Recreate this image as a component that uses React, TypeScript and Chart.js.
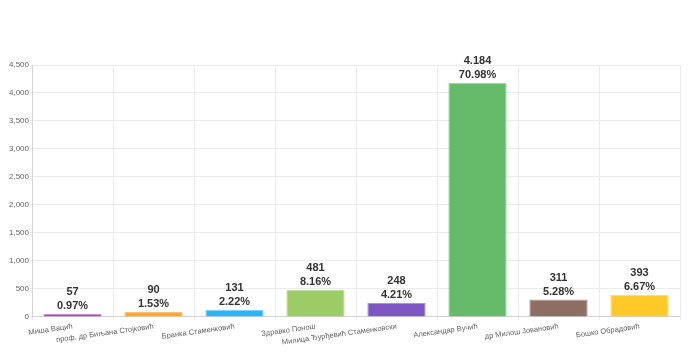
import React, { useEffect, useRef } from "react";
import { Chart, registerables } from "chart.js";

Chart.register(...registerables);

const categories = [
  "Миша Вацић",
  "проф. др Биљана Стојковић",
  "Бранка Стаменковић",
  "Здравко Понош",
  "Милица Ђурђевић Стаменковски",
  "Александар Вучић",
  "др Милош Јовановић",
  "Бошко Обрадовић",
];
const votes = [57, 90, 131, 481, 248, 4184, 311, 393];
const percents = ["0.97%", "1.53%", "2.22%", "8.16%", "4.21%", "70.98%", "5.28%", "6.67%"];
const barColors = ["#ab47bc", "#ffa726", "#29b6f6", "#9ccc65", "#7e57c2", "#66bb6a", "#8d6e63", "#ffca28"];
const borderColors = ["#c68fd0", "#ffc275", "#7fd2f8", "#bfdd9c", "#a893d7", "#9ed5a0", "#b09b93", "#ffdb7a"];

const fmtVotes = (v: number) => v.toString().replace(/\B(?=(\d{3})+(?!\d))/g, ".");

const labelPlugin = {
  id: "barLabels",
  afterDatasetsDraw(chart: any) {
    const ctx = chart.ctx;
    const meta = chart.getDatasetMeta(0);
    ctx.save();
    ctx.fillStyle = "#333";
    ctx.font = "bold 11px 'Liberation Sans', Arial, sans-serif";
    ctx.textAlign = "center";
    ctx.textBaseline = "alphabetic";
    meta.data.forEach((bar: any, i: number) => {
      ctx.fillText(fmtVotes(votes[i]), bar.x, bar.y - 19);
      ctx.fillText(percents[i], bar.x, bar.y - 5);
    });
    ctx.restore();
  },
};

export default function App() {
  const ref = useRef<HTMLCanvasElement>(null);
  useEffect(() => {
    const chart = new Chart(ref.current!, {
      type: "bar",
      data: {
        labels: categories,
        datasets: [
          {
            data: votes,
            backgroundColor: barColors,
            borderColor: borderColors,
            borderWidth: 1,
          },
        ],
      },
      options: {
        animation: false,
        responsive: true,
        maintainAspectRatio: false,
        layout: { padding: { top: 57, right: 8, left: 0, bottom: 0 } },
        plugins: { legend: { display: false }, tooltip: { enabled: false } },
        scales: {
          x: {
            grid: { color: "#ebebeb", tickLength: 3 },
            ticks: {
              color: "#666",
              font: { size: 7.5, family: "'Liberation Sans', Arial, sans-serif" },
              minRotation: 8,
              maxRotation: 8,
              autoSkip: false,
              padding: 2,
            },
          },
          y: {
            min: 0,
            max: 4500,
            grid: { color: "#ebebeb", tickLength: 2 },
            ticks: {
              stepSize: 500,
              color: "#666",
              padding: 1,
              font: { size: 8, family: "'Liberation Sans', Arial, sans-serif" },
              callback: (v: any) => Number(v).toLocaleString("en-US"),
            },
          },
        },
      },
      plugins: [labelPlugin],
    });
    return () => chart.destroy();
  }, []);
  return (
    <div style={{ width: 680, height: 341, position: "relative" }}>
      <canvas ref={ref} />
    </div>
  );
}
